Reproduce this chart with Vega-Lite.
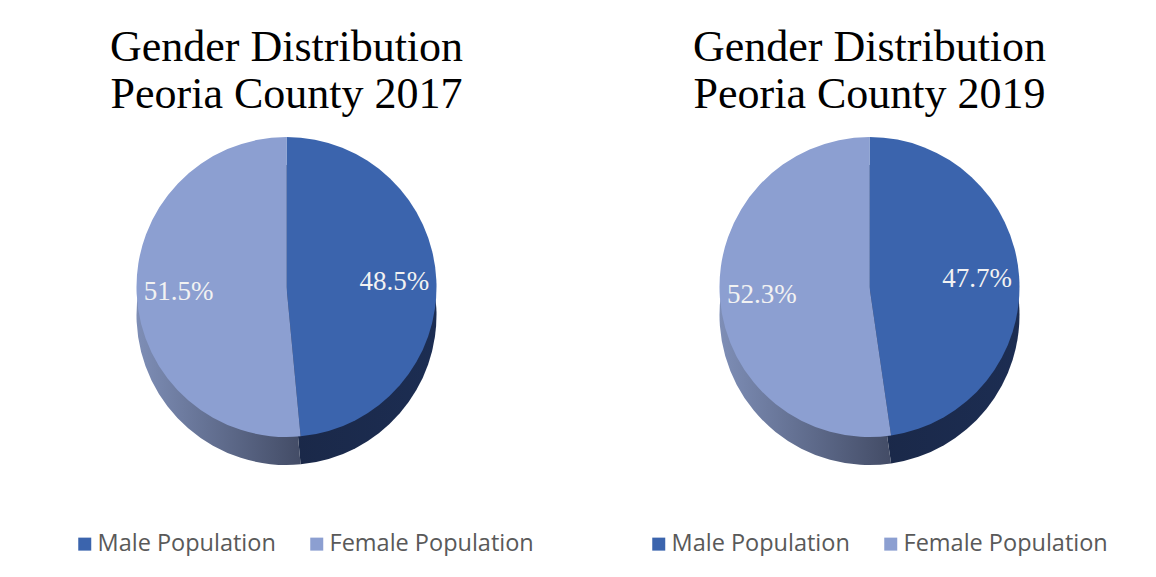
{
  "$schema": "https://vega.github.io/schema/vega-lite/v6.json",
  "padding": {"left": 0, "right": 0, "top": 26, "bottom": 0},
  "background": "white",
  "spacing": 10,
  "datasets": {
    "pop": [
      {"year": "2017", "gender": "Male Population", "share": 0.485},
      {"year": "2017", "gender": "Female Population", "share": 0.515},
      {"year": "2019", "gender": "Male Population", "share": 0.477},
      {"year": "2019", "gender": "Female Population", "share": 0.523}
    ]
  },
  "hconcat": [
    {
      "width": 573,
      "height": 320,
      "title": {"text": ["Gender Distribution", "Peoria County 2017"]},
      "data": {"name": "pop"},
      "transform": [{"filter": "datum.year == '2017'"}],
      "layer": [
        {
          "mark": {"type": "arc", "outerRadius": 150, "yOffset": 28},
          "encoding": {
            "theta": {"field": "share", "type": "quantitative", "stack": true},
            "order": {"field": "share", "sort": "ascending"},
            "fill": {
              "condition": {"test": "datum.gender == 'Female Population'",
                "value": {"gradient": "linear", "x1": 0, "y1": 0, "x2": 1, "y2": 0, "stops": [{"offset": 0, "color": "#7E8EB6"}, {"offset": 1, "color": "#434C66"}]}},
              "value": {"gradient": "linear", "x1": 0, "y1": 0, "x2": 1, "y2": 0, "stops": [{"offset": 0, "color": "#1A2848"}, {"offset": 1, "color": "#1C2D52"}]}
            }
          }
        },
        {
          "mark": {"type": "arc", "outerRadius": 150},
          "encoding": {
            "theta": {"field": "share", "type": "quantitative", "stack": true},
            "order": {"field": "share", "sort": "ascending"},
            "color": {"field": "gender", "type": "nominal", "title": null,
              "scale": {"domain": ["Male Population", "Female Population"], "range": ["#3B64AD", "#8C9FD1"]},
              "legend": {"orient": "none", "legendX": 73, "legendY": 405}}
          }
        },
        {
          "mark": {"type": "text", "radius": 108, "font": "Liberation Serif", "fontSize": 27, "fill": "#F2F2F2"},
          "encoding": {
            "theta": {"field": "share", "type": "quantitative", "stack": true},
            "order": {"field": "share", "sort": "ascending"},
            "text": {"field": "share", "type": "quantitative", "format": ".1%"}
          }
        }
      ]
    },
    {
      "width": 573,
      "height": 320,
      "title": {"text": ["Gender Distribution", "Peoria County 2019"]},
      "data": {"name": "pop"},
      "transform": [{"filter": "datum.year == '2019'"}],
      "layer": [
        {
          "mark": {"type": "arc", "outerRadius": 150, "yOffset": 28},
          "encoding": {
            "theta": {"field": "share", "type": "quantitative", "stack": true},
            "order": {"field": "share", "sort": "ascending"},
            "fill": {
              "condition": {"test": "datum.gender == 'Female Population'",
                "value": {"gradient": "linear", "x1": 0, "y1": 0, "x2": 1, "y2": 0, "stops": [{"offset": 0, "color": "#7E8EB6"}, {"offset": 1, "color": "#434C66"}]}},
              "value": {"gradient": "linear", "x1": 0, "y1": 0, "x2": 1, "y2": 0, "stops": [{"offset": 0, "color": "#1A2848"}, {"offset": 1, "color": "#1C2D52"}]}
            }
          }
        },
        {
          "mark": {"type": "arc", "outerRadius": 150},
          "encoding": {
            "theta": {"field": "share", "type": "quantitative", "stack": true},
            "order": {"field": "share", "sort": "ascending"},
            "color": {"field": "gender", "type": "nominal", "title": null,
              "scale": {"domain": ["Male Population", "Female Population"], "range": ["#3B64AD", "#8C9FD1"]},
              "legend": {"orient": "none", "legendX": 64, "legendY": 405}}
          }
        },
        {
          "mark": {"type": "text", "radius": 108, "font": "Liberation Serif", "fontSize": 27, "fill": "#F2F2F2"},
          "encoding": {
            "theta": {"field": "share", "type": "quantitative", "stack": true},
            "order": {"field": "share", "sort": "ascending"},
            "text": {"field": "share", "type": "quantitative", "format": ".1%"}
          }
        }
      ]
    }
  ],
  "resolve": {"scale": {"color": "independent"}, "legend": {"color": "independent"}},
  "config": {
    "view": {"stroke": null},
    "title": {"font": "Liberation Serif", "fontSize": 44, "fontWeight": "normal", "color": "#000000", "lineHeight": 47, "anchor": "middle", "offset": 10},
    "legend": {
      "direction": "horizontal",
      "symbolType": "square", "symbolSize": 169, "symbolStrokeWidth": 0,
      "labelFont": "Open Sans", "labelFontSize": 23.5, "labelColor": "#595959",
      "labelLimit": 400, "columnPadding": 29, "labelOffset": 1
    }
  }
}
